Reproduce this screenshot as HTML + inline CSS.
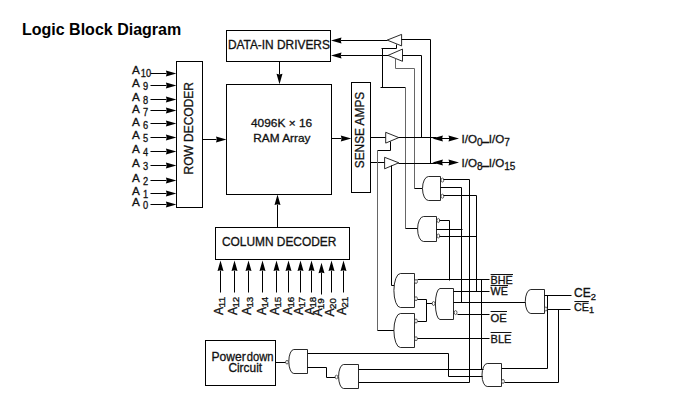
<!DOCTYPE html>
<html><head><meta charset="utf-8"><title>Logic Block Diagram</title>
<style>
html,body{margin:0;padding:0;background:#fff;}
body{width:692px;height:409px;overflow:hidden;position:relative;font-family:"Liberation Sans",sans-serif;}
h1{position:absolute;left:22px;top:21.4px;margin:0;font-size:16px;line-height:18px;font-weight:bold;color:#000;white-space:nowrap;}
svg{position:absolute;left:0;top:0;}
svg text{font-family:"Liberation Sans",sans-serif;fill:#111;stroke:#111;stroke-width:0.3;}
.k{fill:none;stroke:#000;stroke-width:1;}
.t{fill:none;stroke:#666;stroke-width:1;}
.g{fill:#fff;stroke:#111;stroke-width:0.9;}
.b{fill:#fff;stroke:#222;stroke-width:0.7;}
.a{fill:#000;stroke:none;}
.o{fill:none;stroke:#111;stroke-width:1;}
</style></head><body>
<h1>Logic Block Diagram</h1>
<svg width="692" height="409" viewBox="0 0 692 409">
<rect class="k" x="176.5" y="61.5" width="26" height="146"/>
<rect class="k" x="226.5" y="30.5" width="104" height="31"/>
<rect class="k" x="226.5" y="84.5" width="105" height="110"/>
<rect class="k" x="351.5" y="82.5" width="19" height="110"/>
<rect class="k" x="215.5" y="227.5" width="134" height="32"/>
<rect class="k" x="205.5" y="340.5" width="70" height="45"/>
<path class="k" d="M150.5 73.5 L166.5 73.5"/>
<polygon class="a" points="176.40,73.50 165.90,76.40 166.70,73.50 165.90,70.60"/>
<text x="132.1" y="73.8" font-size="11.7" >A</text>
<text x="140.8" y="77" font-size="10" textLength="10.3" lengthAdjust="spacingAndGlyphs" >10</text>
<path class="k" d="M150.5 85.5 L166.5 85.5"/>
<polygon class="a" points="176.40,85.50 165.90,88.40 166.70,85.50 165.90,82.60"/>
<text x="132.1" y="86.6" font-size="11.7" >A</text>
<text x="143" y="89.8" font-size="10" textLength="5.15" lengthAdjust="spacingAndGlyphs" >9</text>
<path class="k" d="M150.5 99.5 L166.5 99.5"/>
<polygon class="a" points="176.40,99.50 165.90,102.40 166.70,99.50 165.90,96.60"/>
<text x="132.1" y="100.8" font-size="11.7" >A</text>
<text x="143" y="104" font-size="10" textLength="5.15" lengthAdjust="spacingAndGlyphs" >8</text>
<path class="k" d="M150.5 110.5 L166.5 110.5"/>
<polygon class="a" points="176.40,110.50 165.90,113.40 166.70,110.50 165.90,107.60"/>
<text x="132.1" y="112.6" font-size="11.7" >A</text>
<text x="143" y="115.8" font-size="10" textLength="5.15" lengthAdjust="spacingAndGlyphs" >7</text>
<path class="k" d="M150.5 123.5 L166.5 123.5"/>
<polygon class="a" points="176.40,123.50 165.90,126.40 166.70,123.50 165.90,120.60"/>
<text x="132.1" y="125.9" font-size="11.7" >A</text>
<text x="143" y="129.1" font-size="10" textLength="5.15" lengthAdjust="spacingAndGlyphs" >6</text>
<path class="k" d="M150.5 137.5 L166.5 137.5"/>
<polygon class="a" points="176.40,137.50 165.90,140.40 166.70,137.50 165.90,134.60"/>
<text x="132.1" y="138.8" font-size="11.7" >A</text>
<text x="143" y="142" font-size="10" textLength="5.15" lengthAdjust="spacingAndGlyphs" >5</text>
<path class="k" d="M150.5 151.5 L166.5 151.5"/>
<polygon class="a" points="176.40,151.50 165.90,154.40 166.70,151.50 165.90,148.60"/>
<text x="132.1" y="152.7" font-size="11.7" >A</text>
<text x="143" y="155.9" font-size="10" textLength="5.15" lengthAdjust="spacingAndGlyphs" >4</text>
<path class="k" d="M150.5 165.5 L166.5 165.5"/>
<polygon class="a" points="176.40,165.50 165.90,168.40 166.70,165.50 165.90,162.60"/>
<text x="132.1" y="167" font-size="11.7" >A</text>
<text x="143" y="170.2" font-size="10" textLength="5.15" lengthAdjust="spacingAndGlyphs" >3</text>
<path class="k" d="M150.5 180.5 L166.5 180.5"/>
<polygon class="a" points="176.40,180.50 165.90,183.40 166.70,180.50 165.90,177.60"/>
<text x="132.1" y="181.7" font-size="11.7" >A</text>
<text x="143" y="184.9" font-size="10" textLength="5.15" lengthAdjust="spacingAndGlyphs" >2</text>
<path class="k" d="M150.5 193.5 L166.5 193.5"/>
<polygon class="a" points="176.40,193.50 165.90,196.40 166.70,193.50 165.90,190.60"/>
<text x="132.1" y="194.6" font-size="11.7" >A</text>
<text x="143" y="197.8" font-size="10" textLength="5.15" lengthAdjust="spacingAndGlyphs" >1</text>
<path class="k" d="M150.5 204.5 L166.5 204.5"/>
<polygon class="a" points="176.40,204.50 165.90,207.40 166.70,204.50 165.90,201.60"/>
<text x="132.1" y="205.6" font-size="11.7" >A</text>
<text x="143" y="208.8" font-size="10" textLength="5.15" lengthAdjust="spacingAndGlyphs" >0</text>
<path class="k" d="M202.5 139.5 L216.5 139.5"/>
<polygon class="a" points="226.50,139.50 216.00,142.50 216.80,139.50 216.00,136.50"/>
<path class="k" d="M279.5 61.5 L279.5 74.5"/>
<polygon class="a" points="279.50,84.30 276.50,73.80 279.50,74.60 282.50,73.80"/>
<path class="k" d="M277.5 227.5 L277.5 204.5"/>
<polygon class="a" points="277.50,194.60 280.50,205.10 277.50,204.30 274.50,205.10"/>
<path class="k" d="M331.5 138.5 L341.5 138.5"/>
<polygon class="a" points="351.30,138.50 340.80,141.50 341.60,138.50 340.80,135.50"/>
<path class="k" d="M387.5 40.5 L340.5 40.5"/>
<polygon class="a" points="331.00,40.50 341.50,37.50 340.70,40.50 341.50,43.50"/>
<path class="k" d="M388.5 55.5 L340.5 55.5"/>
<polygon class="a" points="331.00,55.50 341.50,52.50 340.70,55.50 341.50,58.50"/>
<path class="k" d="M220.5 292.5 L220.5 270.5"/>
<polygon class="a" points="220.50,260.60 223.50,271.10 220.50,270.30 217.50,271.10"/>
<g transform="translate(223.3 315) rotate(-90)"><text x="0" y="0" font-size="12">A</text><text x="7.4" y="2" font-size="9.3" textLength="10.9" lengthAdjust="spacingAndGlyphs">11</text></g>
<path class="k" d="M234.5 292.5 L234.5 270.5"/>
<polygon class="a" points="234.50,260.60 237.50,271.10 234.50,270.30 231.50,271.10"/>
<g transform="translate(237.2 315) rotate(-90)"><text x="0" y="0" font-size="12">A</text><text x="7.4" y="2" font-size="9.3" textLength="10.9" lengthAdjust="spacingAndGlyphs">12</text></g>
<path class="k" d="M248.5 292.5 L248.5 270.5"/>
<polygon class="a" points="248.50,260.60 251.50,271.10 248.50,270.30 245.50,271.10"/>
<g transform="translate(251.2 315) rotate(-90)"><text x="0" y="0" font-size="12">A</text><text x="7.4" y="2" font-size="9.3" textLength="10.9" lengthAdjust="spacingAndGlyphs">13</text></g>
<path class="k" d="M262.5 292.5 L262.5 270.5"/>
<polygon class="a" points="262.50,260.60 265.50,271.10 262.50,270.30 259.50,271.10"/>
<g transform="translate(265.5 315) rotate(-90)"><text x="0" y="0" font-size="12">A</text><text x="7.4" y="2" font-size="9.3" textLength="10.9" lengthAdjust="spacingAndGlyphs">14</text></g>
<path class="k" d="M276.5 292.5 L276.5 270.5"/>
<polygon class="a" points="276.50,260.60 279.50,271.10 276.50,270.30 273.50,271.10"/>
<g transform="translate(279 315) rotate(-90)"><text x="0" y="0" font-size="12">A</text><text x="7.4" y="2" font-size="9.3" textLength="10.9" lengthAdjust="spacingAndGlyphs">15</text></g>
<path class="k" d="M288.5 292.5 L288.5 270.5"/>
<polygon class="a" points="288.50,260.60 291.50,271.10 288.50,270.30 285.50,271.10"/>
<g transform="translate(291.7 315) rotate(-90)"><text x="0" y="0" font-size="12">A</text><text x="7.4" y="2" font-size="9.3" textLength="10.9" lengthAdjust="spacingAndGlyphs">16</text></g>
<path class="k" d="M300.5 292.5 L300.5 270.5"/>
<polygon class="a" points="300.50,260.60 303.50,271.10 300.50,270.30 297.50,271.10"/>
<g transform="translate(303.3 315) rotate(-90)"><text x="0" y="0" font-size="12">A</text><text x="7.4" y="2" font-size="9.3" textLength="10.9" lengthAdjust="spacingAndGlyphs">17</text></g>
<path class="k" d="M311.5 292.5 L311.5 270.5"/>
<polygon class="a" points="311.50,260.60 314.50,271.10 311.50,270.30 308.50,271.10"/>
<g transform="translate(314.3 315) rotate(-90)"><text x="0" y="0" font-size="12">A</text><text x="7.4" y="2" font-size="9.3" textLength="10.9" lengthAdjust="spacingAndGlyphs">18</text></g>
<path class="k" d="M321.5 294.5 L321.5 272.5"/>
<polygon class="a" points="321.50,262.80 324.50,273.30 321.50,272.50 318.50,273.30"/>
<g transform="translate(321.9 316.6) rotate(-90)"><text x="0" y="0" font-size="12">A</text><text x="7.4" y="2" font-size="9.3" textLength="10.9" lengthAdjust="spacingAndGlyphs">19</text></g>
<path class="k" d="M331.5 292.5 L331.5 270.5"/>
<polygon class="a" points="331.50,260.60 334.50,271.10 331.50,270.30 328.50,271.10"/>
<g transform="translate(334.4 316.4) rotate(-90)"><text x="0" y="0" font-size="12">A</text><text x="7.4" y="2" font-size="9.3" textLength="10.9" lengthAdjust="spacingAndGlyphs">20</text></g>
<path class="k" d="M343.5 292.5 L343.5 270.5"/>
<polygon class="a" points="343.50,260.60 346.50,271.10 343.50,270.30 340.50,271.10"/>
<g transform="translate(346.3 315) rotate(-90)"><text x="0" y="0" font-size="12">A</text><text x="7.4" y="2" font-size="9.3" textLength="10.9" lengthAdjust="spacingAndGlyphs">21</text></g>
<text x="227.9" y="48.9" font-size="12" textLength="102" lengthAdjust="spacingAndGlyphs" >DATA-IN DRIVERS</text>
<text x="251" y="126.9" font-size="11.3" textLength="61.2" lengthAdjust="spacingAndGlyphs" >4096K × 16</text>
<text x="253.3" y="141.7" font-size="11.3" textLength="57.2" lengthAdjust="spacingAndGlyphs" >RAM Array</text>
<text x="221.9" y="246.3" font-size="12" textLength="114.5" lengthAdjust="spacingAndGlyphs" >COLUMN DECODER</text>
<g transform="translate(192.9 174.5) rotate(-90)"><text x="0" y="0" font-size="12" textLength="92.4" lengthAdjust="spacingAndGlyphs">ROW DECODER</text></g>
<g transform="translate(364.3 168.2) rotate(-90)"><text x="0" y="0" font-size="12" textLength="76.4" lengthAdjust="spacingAndGlyphs">SENSE AMPS</text></g>
<text x="211.5" y="360.8" font-size="12" textLength="34.2" lengthAdjust="spacingAndGlyphs" stroke-width="0.15">Power</text>
<text x="246.8" y="360.8" font-size="12" textLength="26.8" lengthAdjust="spacingAndGlyphs" stroke-width="0.15">down</text>
<text x="228.4" y="371.8" font-size="12" textLength="33.7" lengthAdjust="spacingAndGlyphs" stroke-width="0.15">Circuit</text>
<polygon class="g" points="387.2,40.1 401.6,34.4 401.6,45.9"/>
<polygon class="g" points="388,55.4 402.5,49.1 402.5,61.3"/>
<polygon class="g" points="385.7,132.3 385.7,143.1 398.8,137.6"/>
<polygon class="g" points="384.6,157.3 384.6,168.8 398.8,162.8"/>
<path class="k" d="M401.5 39.5 L430.5 39.5 L430.5 163.5"/>
<path class="k" d="M402.5 55.5 L421.5 55.5 L421.5 137.5"/>
<path class="k" d="M396.5 44.5 L396.5 48.5 L381.5 48.5"/>
<path class="k" d="M382.5 48.5 L382.5 87.5"/>
<path class="k" d="M380.5 87.5 L405.5 87.5"/>
<path class="t" d="M405.5 87.5 L405.5 228.5"/>
<path class="k" d="M405.5 228.5 L417.5 228.5"/>
<path class="t" d="M395.5 58.5 L395.5 68.5 L414.5 68.5 L414.5 188.5"/>
<path class="k" d="M414.5 188.5 L422.5 188.5"/>
<path class="k" d="M370.5 137.5 L385.5 137.5"/>
<path class="k" d="M370.5 162.5 L384.5 162.5"/>
<path class="k" d="M398.5 137.5 L436.5 137.5"/>
<path class="k" d="M398.5 163.5 L436.5 163.5"/>
<polygon class="a" points="432.40,138.50 442.90,135.50 442.10,138.50 442.90,141.50"/>
<polygon class="a" points="459.00,138.50 448.50,141.50 449.30,138.50 448.50,135.50"/>
<path class="k" d="M438.5 138.5 L452.5 138.5"/>
<polygon class="a" points="432.40,162.50 442.90,159.50 442.10,162.50 442.90,165.50"/>
<polygon class="a" points="459.00,162.50 448.50,165.50 449.30,162.50 448.50,159.50"/>
<path class="k" d="M438.5 162.5 L452.5 162.5"/>
<path class="k" d="M390.5 141.5 L390.5 150.5 L377.5 150.5"/>
<path class="t" d="M377.5 150.5 L377.5 330.5"/>
<path class="k" d="M377.5 330.5 L394.5 330.5"/>
<path class="k" d="M391.5 165.5 L391.5 285.5 L394.5 285.5"/>
<text x="461.6" y="143.1" font-size="11.6">I/O<tspan font-size="10" dy="3.1">0</tspan><tspan dy="-1.4" dx="-0.3" stroke-width="0.9">–</tspan><tspan dy="-1.7">I/O</tspan><tspan font-size="10" dy="3.1">7</tspan></text>
<text x="461.6" y="167.1" font-size="11.6">I/O<tspan font-size="10" dy="3.1">8</tspan><tspan dy="-1.4" dx="-0.3" stroke-width="0.9">–</tspan><tspan dy="-1.7">I/O</tspan><tspan font-size="10" dy="3.1">15</tspan></text>
<path class="g" d="M428.5 176.5 L440.5 176.5 L440.5 200.5 L428.5 200.5 A6 12 0 0 1 428.5 176.5 Z"/>
<ellipse class="b" cx="442.4" cy="180.1" rx="1.4" ry="2"/>
<ellipse class="b" cx="442.4" cy="196.2" rx="1.4" ry="2"/>
<path class="k" d="M443.5 179.5 L469.5 179.5 L469.5 382.5"/>
<path class="k" d="M440.5 187.5 L461.5 187.5 L461.5 302.5"/>
<path class="k" d="M443.5 195.5 L476.5 195.5 L476.5 291.5"/>
<path class="g" d="M423.6 216.5 L436.5 216.5 L436.5 241.5 L423.6 241.5 A6 12.5 0 0 1 423.6 216.5 Z"/>
<ellipse class="b" cx="438.3" cy="220.5" rx="1.4" ry="2"/>
<ellipse class="b" cx="438.3" cy="236" rx="1.4" ry="2"/>
<path class="k" d="M439.5 220.5 L449.5 220.5 L449.5 280.5"/>
<path class="k" d="M436.5 229.5 L462.5 229.5"/>
<path class="k" d="M439.5 236.5 L476.5 236.5"/>
<path class="g" d="M400.4 273.5 L414.5 273.5 L414.5 307.5 L400.4 307.5 A6.5 17 0 0 1 400.4 273.5 Z"/>
<ellipse class="b" cx="416" cy="281.5" rx="1.4" ry="2"/>
<ellipse class="b" cx="416" cy="298.7" rx="1.4" ry="2"/>
<path class="k" d="M417.5 279.5 L489.5 279.5"/>
<path class="k" d="M481.5 279.5 L481.5 369.5"/>
<path class="k" d="M417.5 299.5 L426.5 299.5 L426.5 321.5 L417.5 321.5"/>
<path class="k" d="M426.5 303.5 L432.5 303.5"/>
<path class="g" d="M400.4 313.5 L414.5 313.5 L414.5 347.5 L400.4 347.5 A6.5 17 0 0 1 400.4 313.5 Z"/>
<ellipse class="b" cx="416" cy="321" rx="1.4" ry="2"/>
<ellipse class="b" cx="416" cy="338.7" rx="1.4" ry="2"/>
<path class="k" d="M417.5 338.5 L489.5 338.5"/>
<path class="g" d="M440 288.5 L453.5 288.5 L453.5 319.5 L440 319.5 A4.6 15.5 0 0 1 440 288.5 Z"/>
<ellipse class="b" cx="433.6" cy="303.5" rx="1.4" ry="2"/>
<path class="k" d="M453.5 291.5 L489.5 291.5"/>
<path class="k" d="M453.5 302.5 L525.5 302.5"/>
<ellipse class="b" cx="455.6" cy="312.6" rx="1.4" ry="2"/>
<path class="k" d="M457.5 314.5 L489.5 314.5"/>
<path class="g" d="M530.8 289.5 L544.5 289.5 L544.5 313.5 L530.8 313.5 A5.5 12 0 0 1 530.8 289.5 Z"/>
<path class="k" d="M544.5 295.5 L571.5 295.5"/>
<path class="k" d="M547.5 295.5 L547.5 368.5 L501.5 368.5"/>
<ellipse class="b" cx="545.9" cy="309" rx="1.4" ry="2"/>
<path class="k" d="M547.5 309.5 L570.5 309.5"/>
<path class="k" d="M558.5 309.5 L558.5 382.5 L504.5 382.5"/>
<path class="g" d="M487.2 363.5 L501.5 363.5 L501.5 386.5 L487.2 386.5 A5.2 11.5 0 0 1 487.2 363.5 Z"/>
<ellipse class="b" cx="503" cy="381.4" rx="1.4" ry="2"/>
<path class="k" d="M358.5 369.5 L483.5 369.5"/>
<path class="k" d="M358.5 382.5 L469.5 382.5"/>
<path class="k" d="M307.5 353.5 L448.5 353.5 L448.5 376.5 L482.5 376.5"/>
<path class="g" d="M293.8 349.5 L307.5 349.5 L307.5 373.5 L293.8 373.5 A5 12 0 0 1 293.8 349.5 Z"/>
<ellipse class="b" cx="287" cy="362.2" rx="1.4" ry="1.8"/>
<path class="k" d="M275.5 362.5 L285.5 362.5"/>
<path class="k" d="M307.5 367.5 L326.5 367.5 L326.5 377.5 L335.5 377.5"/>
<path class="g" d="M343.6 364.5 L358.5 364.5 L358.5 388.5 L343.6 388.5 A5 12 0 0 1 343.6 364.5 Z"/>
<ellipse class="b" cx="336.5" cy="377" rx="1.4" ry="1.8"/>
<text x="490.6" y="283.8" font-size="10.6" textLength="22.2" lengthAdjust="spacingAndGlyphs" >BHE</text>
<path class="o" d="M490.6 274.5 L513 274.5"/>
<text x="490.6" y="294.8" font-size="10.6" textLength="17.2" lengthAdjust="spacingAndGlyphs" >WE</text>
<path class="o" d="M490.6 285.5 L508 285.5"/>
<text x="490.6" y="321.6" font-size="10.6" textLength="16.2" lengthAdjust="spacingAndGlyphs" >OE</text>
<path class="o" d="M490.6 311.5 L507 311.5"/>
<text x="490.6" y="342.9" font-size="10.6" textLength="20.8" lengthAdjust="spacingAndGlyphs" >BLE</text>
<path class="o" d="M490.6 332.5 L511.5 332.5"/>
<text x="574" y="297" font-size="12">CE<tspan font-size="9.4" dy="2.9">2</tspan></text>
<text x="574" y="310.7" font-size="10.8">CE<tspan font-size="9.2" dy="2.7">1</tspan></text>
<path class="o" d="M574.4 301.5 L588.8 301.5"/>
</svg>
</body></html>
